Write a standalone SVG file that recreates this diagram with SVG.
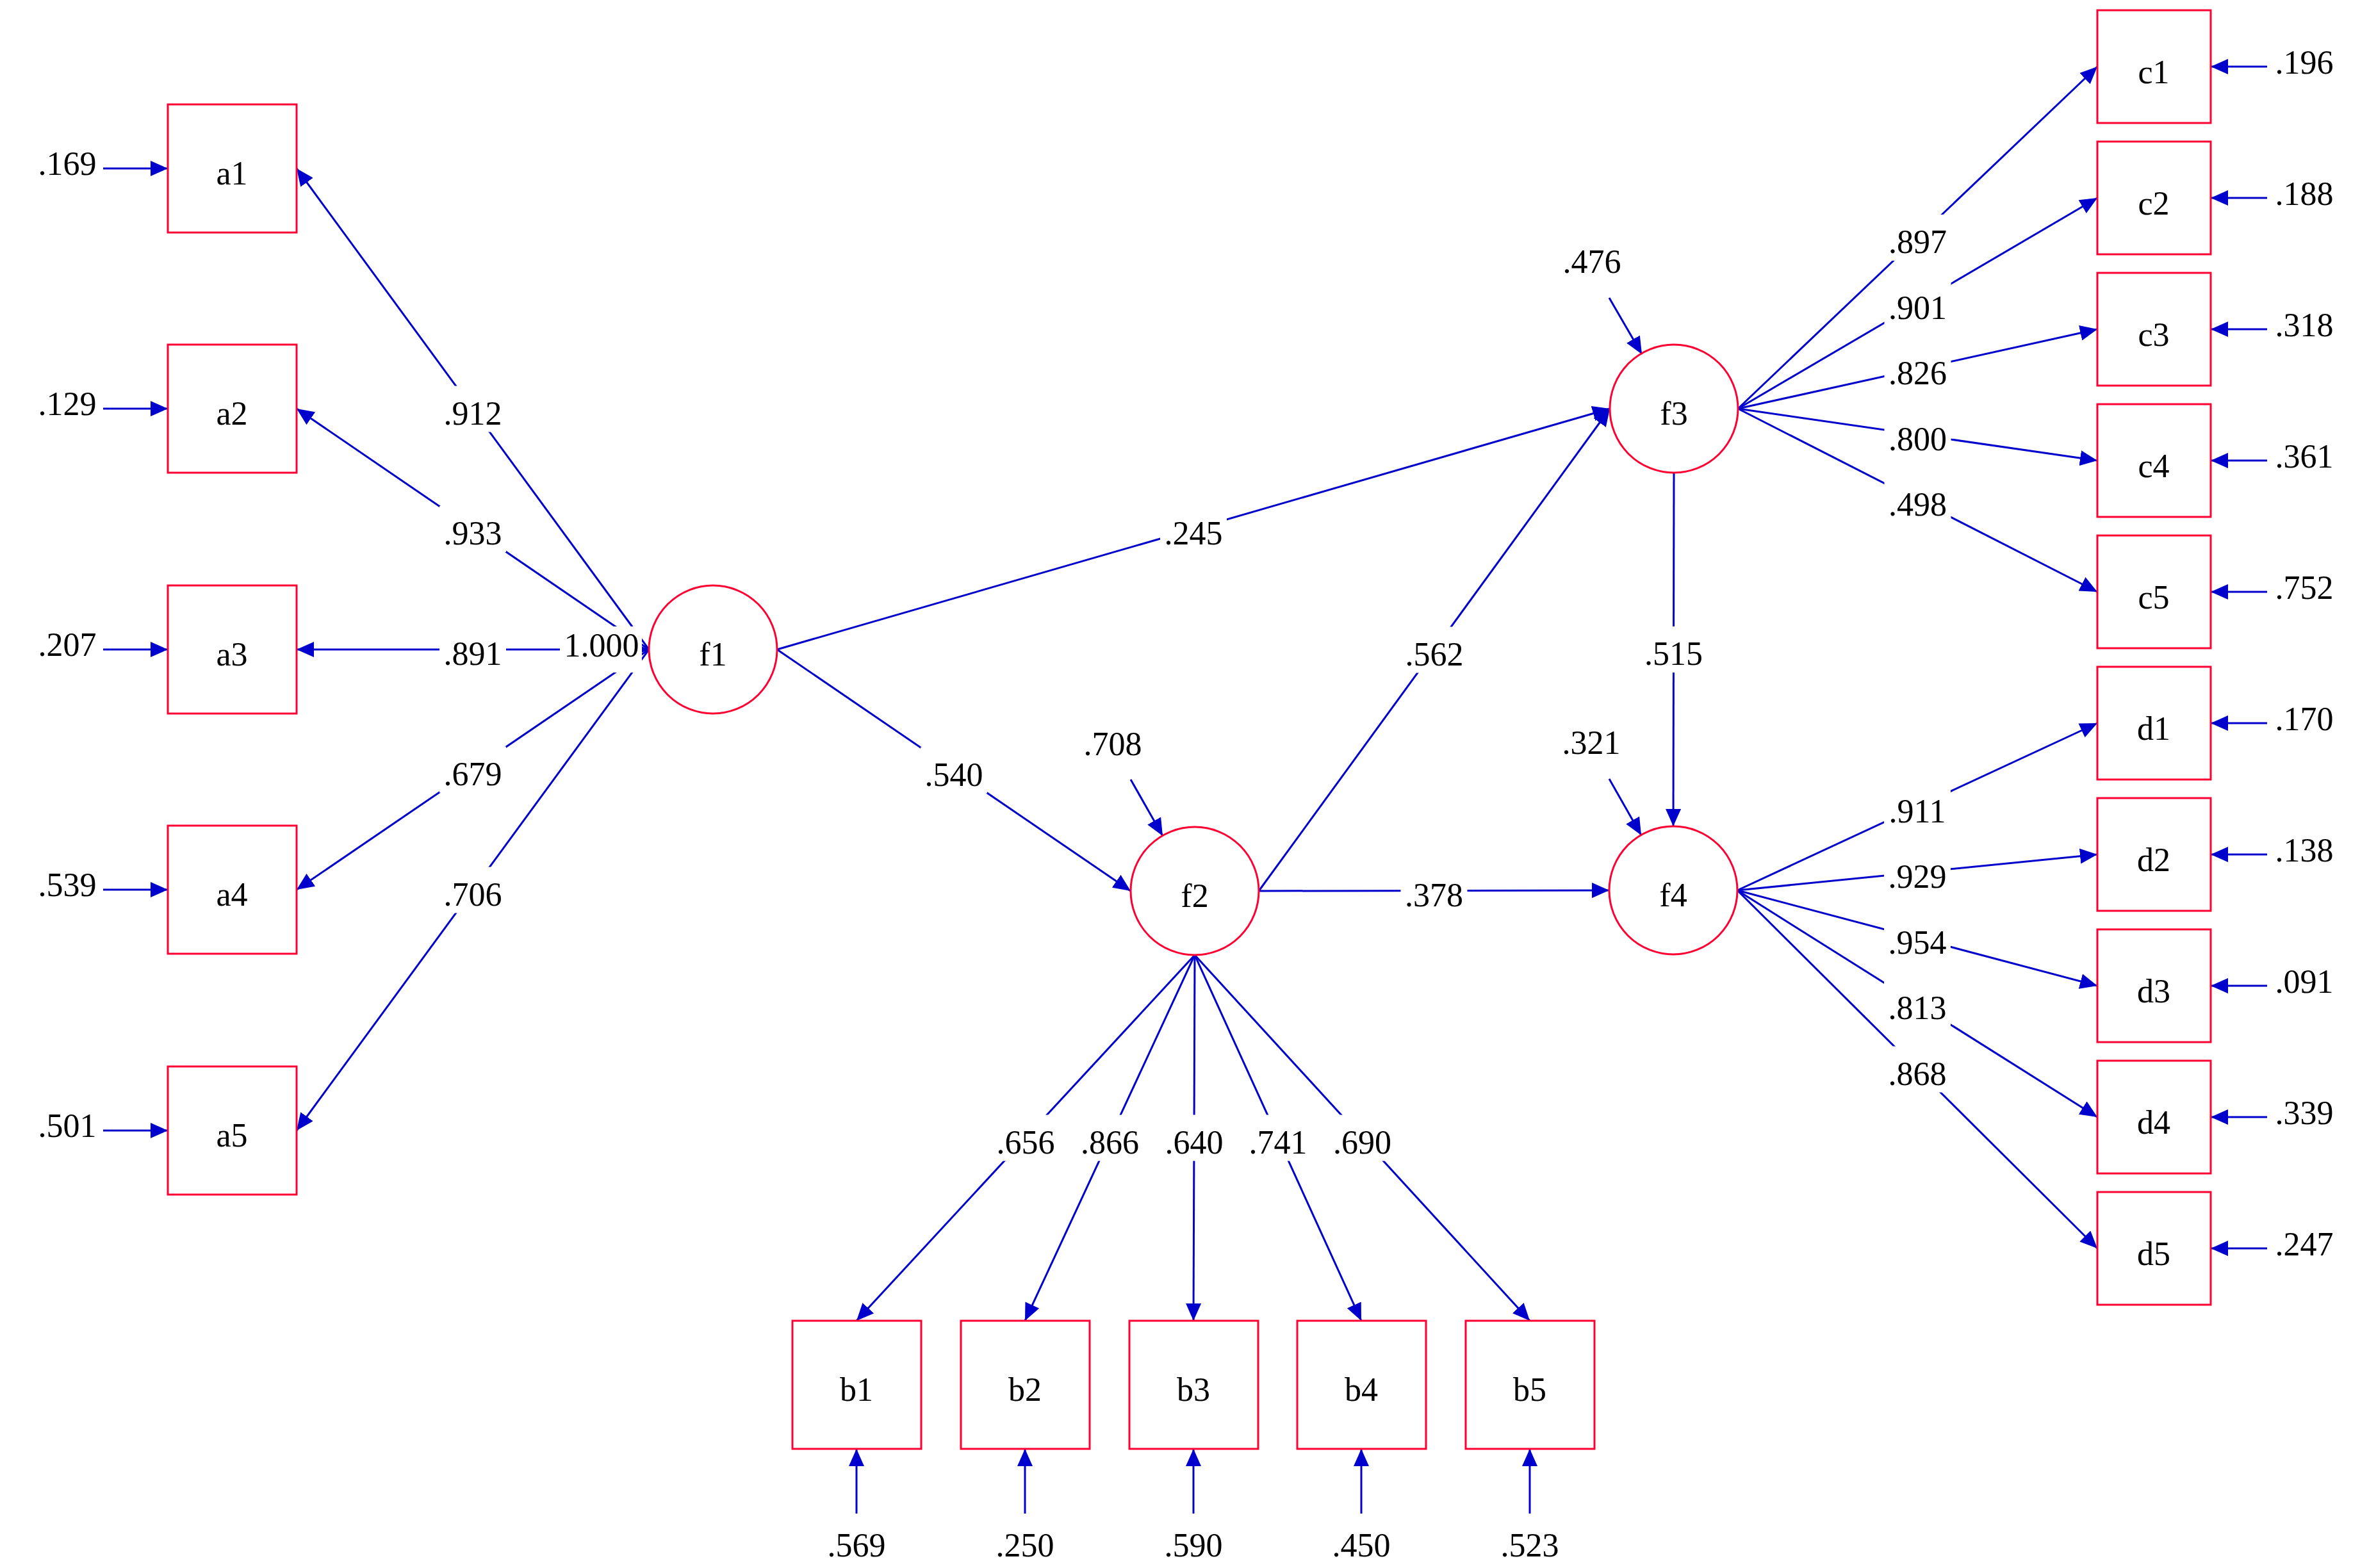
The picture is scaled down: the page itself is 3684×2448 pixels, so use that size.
<svg xmlns="http://www.w3.org/2000/svg" width="3684" height="2448" viewBox="0 0 3684 2448">
<defs>
<marker id="ah" viewBox="0 0 27 24" refX="27" refY="12" markerWidth="27" markerHeight="24" markerUnits="userSpaceOnUse" orient="auto"><path d="M0,0 L27,12 L0,24 z" fill="#0000CC"/></marker>
<style>
.n{fill:#fff;stroke:#FF0033;stroke-width:3}
.c{stroke:#0000CC;stroke-width:3;fill:none;marker-end:url(#ah)}
.t{font-family:"Liberation Serif","Times New Roman",serif;font-size:52px;text-anchor:middle;fill:#000}
.bg{fill:#fff}
</style>
</defs>
<rect width="3684" height="2448" fill="#fff"/>

<g id="connectors">
<!-- f1 to a -->
<line class="c" x1="1013" y1="1014" x2="463" y2="263"/>
<line class="c" x1="1013" y1="1014" x2="463" y2="638"/>
<line class="c" x1="1013" y1="1014" x2="463" y2="1014"/>
<line class="c" x1="1013" y1="1014" x2="463" y2="1389"/>
<line class="c" x1="1013" y1="1014" x2="463" y2="1765"/>
<line class="c" x1="986" y1="1014" x2="1013" y2="1014"/>
<!-- structural -->
<line class="c" x1="1213" y1="1014" x2="2513" y2="638"/>
<line class="c" x1="1213" y1="1014" x2="1765" y2="1391"/>
<line class="c" x1="1965" y1="1391" x2="2513" y2="638"/>
<line class="c" x1="1965" y1="1391" x2="2512" y2="1390"/>
<line class="c" x1="2613" y1="738" x2="2612" y2="1290"/>
<!-- f2 to b -->
<line class="c" x1="1865" y1="1491" x2="1337" y2="2062"/>
<line class="c" x1="1865" y1="1491" x2="1600" y2="2062"/>
<line class="c" x1="1865" y1="1491" x2="1863" y2="2062"/>
<line class="c" x1="1865" y1="1491" x2="2125" y2="2062"/>
<line class="c" x1="1865" y1="1491" x2="2388" y2="2062"/>
<!-- f3 to c -->
<line class="c" x1="2713" y1="638" x2="3274" y2="104"/>
<line class="c" x1="2713" y1="638" x2="3274" y2="309"/>
<line class="c" x1="2713" y1="638" x2="3274" y2="514"/>
<line class="c" x1="2713" y1="638" x2="3274" y2="719"/>
<line class="c" x1="2713" y1="638" x2="3274" y2="924"/>
<!-- f4 to d -->
<line class="c" x1="2712" y1="1390" x2="3274" y2="1129"/>
<line class="c" x1="2712" y1="1390" x2="3274" y2="1334"/>
<line class="c" x1="2712" y1="1390" x2="3274" y2="1539"/>
<line class="c" x1="2712" y1="1390" x2="3274" y2="1744"/>
<line class="c" x1="2712" y1="1390" x2="3274" y2="1949"/>
<!-- errors -->
<line class="c" x1="161" y1="263" x2="262" y2="263"/>
<line class="c" x1="161" y1="638" x2="262" y2="638"/>
<line class="c" x1="161" y1="1014" x2="262" y2="1014"/>
<line class="c" x1="161" y1="1389" x2="262" y2="1389"/>
<line class="c" x1="161" y1="1765" x2="262" y2="1765"/>
<line class="c" x1="1337" y1="2363" x2="1337" y2="2262"/>
<line class="c" x1="1600" y1="2363" x2="1600" y2="2262"/>
<line class="c" x1="1863" y1="2363" x2="1863" y2="2262"/>
<line class="c" x1="2125" y1="2363" x2="2125" y2="2262"/>
<line class="c" x1="2388" y1="2363" x2="2388" y2="2262"/>
<line class="c" x1="3539" y1="104" x2="3451" y2="104"/>
<line class="c" x1="3539" y1="309" x2="3451" y2="309"/>
<line class="c" x1="3539" y1="514" x2="3451" y2="514"/>
<line class="c" x1="3539" y1="719" x2="3451" y2="719"/>
<line class="c" x1="3539" y1="924" x2="3451" y2="924"/>
<line class="c" x1="3539" y1="1129" x2="3451" y2="1129"/>
<line class="c" x1="3539" y1="1334" x2="3451" y2="1334"/>
<line class="c" x1="3539" y1="1539" x2="3451" y2="1539"/>
<line class="c" x1="3539" y1="1744" x2="3451" y2="1744"/>
<line class="c" x1="3539" y1="1949" x2="3451" y2="1949"/>
<line class="c" x1="1765" y1="1217" x2="1815" y2="1305"/>
<line class="c" x1="2512" y1="465" x2="2563" y2="553"/>
<line class="c" x1="2512" y1="1216" x2="2562" y2="1304"/>

<!-- path labels -->
<g id="labels">
<rect class="bg" x="686" y="602.5" width="104" height="72"/><text class="t" x="738" y="662.5">.912</text>
<rect class="bg" x="686" y="790" width="104" height="72"/><text class="t" x="738" y="850">.933</text>
<rect class="bg" x="686" y="978" width="104" height="72"/><text class="t" x="738" y="1038">.891</text>
<rect class="bg" x="686" y="1165.5" width="104" height="72"/><text class="t" x="738" y="1225.5">.679</text>
<rect class="bg" x="686" y="1353.5" width="104" height="72"/><text class="t" x="738" y="1413.5">.706</text>
<rect class="bg" x="874" y="978" width="128" height="72"/><text class="t" x="939" y="1025">1.000</text>
<rect class="bg" x="1811" y="790" width="104" height="72"/><text class="t" x="1863" y="850">.245</text>
<rect class="bg" x="1437" y="1166.5" width="104" height="72"/><text class="t" x="1489" y="1226.5">.540</text>
<rect class="bg" x="2187" y="978.5" width="104" height="72"/><text class="t" x="2239" y="1038.5">.562</text>
<rect class="bg" x="2186.5" y="1354.5" width="104" height="72"/><text class="t" x="2238.5" y="1414.5">.378</text>
<rect class="bg" x="2560.5" y="978" width="104" height="72"/><text class="t" x="2612.5" y="1038">.515</text>
<rect class="bg" x="1549" y="1740.5" width="104" height="72"/><text class="t" x="1601" y="1800.5">.656</text>
<rect class="bg" x="1680.5" y="1740.5" width="104" height="72"/><text class="t" x="1732.5" y="1800.5">.866</text>
<rect class="bg" x="1812" y="1740.5" width="104" height="72"/><text class="t" x="1864" y="1800.5">.640</text>
<rect class="bg" x="1943" y="1740.5" width="104" height="72"/><text class="t" x="1995" y="1800.5">.741</text>
<rect class="bg" x="2074.5" y="1740.5" width="104" height="72"/><text class="t" x="2126.5" y="1800.5">.690</text>
<rect class="bg" x="2941.5" y="335" width="104" height="72"/><text class="t" x="2993.5" y="395">.897</text>
<rect class="bg" x="2941.5" y="437.5" width="104" height="72"/><text class="t" x="2993.5" y="497.5">.901</text>
<rect class="bg" x="2941.5" y="540" width="104" height="72"/><text class="t" x="2993.5" y="600">.826</text>
<rect class="bg" x="2941.5" y="642.5" width="104" height="72"/><text class="t" x="2993.5" y="702.5">.800</text>
<rect class="bg" x="2941.5" y="745" width="104" height="72"/><text class="t" x="2993.5" y="805">.498</text>
<rect class="bg" x="2941" y="1223.5" width="104" height="72"/><text class="t" x="2993" y="1283.5">.911</text>
<rect class="bg" x="2941" y="1326" width="104" height="72"/><text class="t" x="2993" y="1386">.929</text>
<rect class="bg" x="2941" y="1428.5" width="104" height="72"/><text class="t" x="2993" y="1488.5">.954</text>
<rect class="bg" x="2941" y="1531" width="104" height="72"/><text class="t" x="2993" y="1591">.813</text>
<rect class="bg" x="2941" y="1633.5" width="104" height="72"/><text class="t" x="2993" y="1693.5">.868</text>
</g>
<!-- error labels -->
<g id="error-labels">
<text class="t" x="105" y="273">.169</text>
<text class="t" x="105" y="648">.129</text>
<text class="t" x="105" y="1024">.207</text>
<text class="t" x="105" y="1399">.539</text>
<text class="t" x="105" y="1775">.501</text>
<text class="t" x="1337" y="2430">.569</text>
<text class="t" x="1600" y="2430">.250</text>
<text class="t" x="1863" y="2430">.590</text>
<text class="t" x="2125" y="2430">.450</text>
<text class="t" x="2388" y="2430">.523</text>
<text class="t" x="3597" y="115">.196</text>
<text class="t" x="3597" y="320">.188</text>
<text class="t" x="3597" y="525">.318</text>
<text class="t" x="3597" y="730">.361</text>
<text class="t" x="3597" y="935">.752</text>
<text class="t" x="3597" y="1140">.170</text>
<text class="t" x="3597" y="1345">.138</text>
<text class="t" x="3597" y="1550">.091</text>
<text class="t" x="3597" y="1755">.339</text>
<text class="t" x="3597" y="1960">.247</text>
<text class="t" x="1737" y="1179">.708</text>
<text class="t" x="2485" y="426">.476</text>
<text class="t" x="2484" y="1177">.321</text>
</g>
</g>

<g id="a1"><rect class="n" x="262" y="163" width="201" height="200"/><text class="t" x="362" y="288">a1</text></g>
<g id="a2"><rect class="n" x="262" y="538" width="201" height="200"/><text class="t" x="362" y="663">a2</text></g>
<g id="a3"><rect class="n" x="262" y="914" width="201" height="200"/><text class="t" x="362" y="1039">a3</text></g>
<g id="a4"><rect class="n" x="262" y="1289" width="201" height="200"/><text class="t" x="362" y="1414">a4</text></g>
<g id="a5"><rect class="n" x="262" y="1665" width="201" height="200"/><text class="t" x="362" y="1790">a5</text></g>

<g id="b1"><rect class="n" x="1237" y="2062" width="201" height="200"/><text class="t" x="1337" y="2187">b1</text></g>
<g id="b2"><rect class="n" x="1500" y="2062" width="201" height="200"/><text class="t" x="1600" y="2187">b2</text></g>
<g id="b3"><rect class="n" x="1763" y="2062" width="201" height="200"/><text class="t" x="1863" y="2187">b3</text></g>
<g id="b4"><rect class="n" x="2025" y="2062" width="201" height="200"/><text class="t" x="2125" y="2187">b4</text></g>
<g id="b5"><rect class="n" x="2288" y="2062" width="201" height="200"/><text class="t" x="2388" y="2187">b5</text></g>

<g id="c1"><rect class="n" x="3274" y="16" width="177" height="176"/><text class="t" x="3362" y="130">c1</text></g>
<g id="c2"><rect class="n" x="3274" y="221" width="177" height="176"/><text class="t" x="3362" y="335">c2</text></g>
<g id="c3"><rect class="n" x="3274" y="426" width="177" height="176"/><text class="t" x="3362" y="540">c3</text></g>
<g id="c4"><rect class="n" x="3274" y="631" width="177" height="176"/><text class="t" x="3362" y="745">c4</text></g>
<g id="c5"><rect class="n" x="3274" y="836" width="177" height="176"/><text class="t" x="3362" y="950">c5</text></g>

<g id="d1"><rect class="n" x="3274" y="1041" width="177" height="176"/><text class="t" x="3362" y="1155">d1</text></g>
<g id="d2"><rect class="n" x="3274" y="1246" width="177" height="176"/><text class="t" x="3362" y="1360">d2</text></g>
<g id="d3"><rect class="n" x="3274" y="1451" width="177" height="176"/><text class="t" x="3362" y="1565">d3</text></g>
<g id="d4"><rect class="n" x="3274" y="1656" width="177" height="176"/><text class="t" x="3362" y="1770">d4</text></g>
<g id="d5"><rect class="n" x="3274" y="1861" width="177" height="176"/><text class="t" x="3362" y="1975">d5</text></g>

<g id="f1"><circle class="n" cx="1113" cy="1014" r="100" fill="none" style="fill:none"/><text class="t" x="1113" y="1039">f1</text></g>
<g id="f2"><circle class="n" cx="1865" cy="1391" r="100" style="fill:none"/><text class="t" x="1865" y="1416">f2</text></g>
<g id="f3"><circle class="n" cx="2613" cy="638" r="100" style="fill:none"/><text class="t" x="2613" y="663">f3</text></g>
<g id="f4"><circle class="n" cx="2612" cy="1390" r="100" style="fill:none"/><text class="t" x="2612" y="1415">f4</text></g>
</svg>
